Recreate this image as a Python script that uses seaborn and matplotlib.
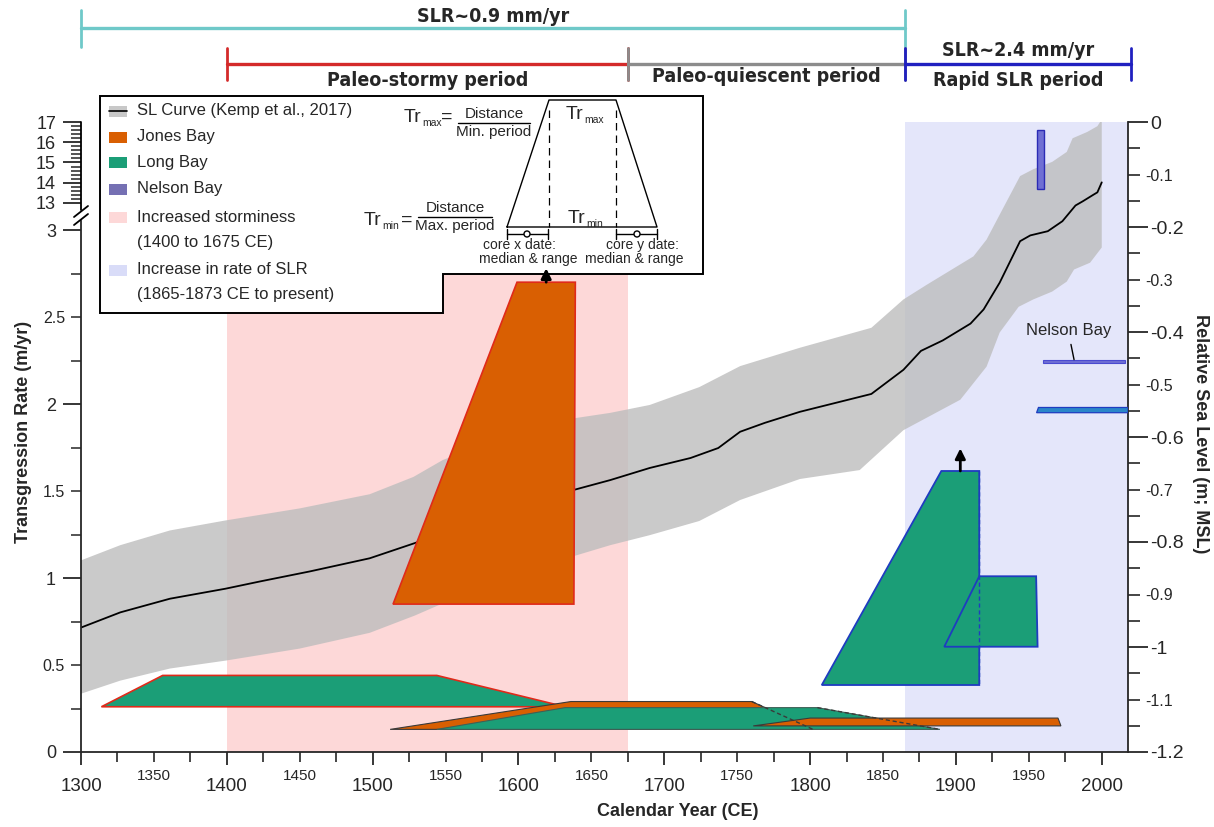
import numpy as np
import matplotlib
matplotlib.use("Agg")
import matplotlib.pyplot as plt
import matplotlib.transforms as mtransforms
import matplotlib.ticker as mticker
from matplotlib.patches import Polygon, Rectangle, Circle
from matplotlib.lines import Line2D
import seaborn as sns

# ---------------- data ----------------
# Sea-level curve (Kemp et al., 2017): mean and uncertainty envelope (m, MSL)
sl_year = [1300, 1327, 1361, 1399, 1423, 1457, 1498, 1529, 1553, 1587, 1615, 1639, 1663,
           1690, 1718, 1737, 1752, 1769, 1793, 1842, 1864, 1876, 1891, 1910, 1919, 1930,
           1944, 1951, 1963, 1973, 1982, 1987, 1994, 1997, 2000]
sl_mean = [-0.963, -0.934, -0.908, -0.889, -0.875, -0.856, -0.831, -0.802, -0.778, -0.738,
           -0.715, -0.700, -0.682, -0.659, -0.640, -0.621, -0.590, -0.573, -0.552, -0.518,
           -0.472, -0.436, -0.416, -0.384, -0.357, -0.306, -0.227, -0.216, -0.208, -0.189,
           -0.159, -0.151, -0.139, -0.134, -0.115]
up_year = [1300, 1327, 1361, 1399, 1450, 1498, 1528, 1548, 1587, 1615, 1639, 1663, 1690,
           1724, 1752, 1793, 1842, 1864, 1880, 1912, 1921, 1932, 1944, 1953, 1966, 1976,
           1980, 1990, 1997, 2000]
up_sl = [-0.835, -0.806, -0.778, -0.759, -0.736, -0.709, -0.676, -0.644, -0.602, -0.583,
         -0.564, -0.554, -0.539, -0.505, -0.465, -0.430, -0.392, -0.338, -0.310, -0.256,
         -0.224, -0.166, -0.103, -0.090, -0.076, -0.057, -0.031, -0.019, -0.008, 0.005]
lo_year = [1300, 1327, 1361, 1399, 1450, 1498, 1529, 1553, 1587, 1615, 1639, 1663, 1690,
           1724, 1752, 1793, 1834, 1864, 1903, 1921, 1930, 1943, 1953, 1966, 1976, 1981,
           1992, 2000]
lo_sl = [-1.089, -1.064, -1.041, -1.026, -1.003, -0.973, -0.940, -0.911, -0.877, -0.850,
         -0.826, -0.806, -0.787, -0.760, -0.720, -0.680, -0.663, -0.587, -0.529, -0.466,
         -0.401, -0.352, -0.338, -0.323, -0.304, -0.281, -0.268, -0.239]

# Transgression-rate trapezoids: years [bottom-left, top-left, top-right, bottom-right],
# rates [min, max] (m/yr)
jones_years = [[1514, 1599, 1639, 1638], [1512, 1636, 1760, 1802], [1761, 1800, 1970, 1972]]
jones_rates = [[0.85, 2.70], [0.13, 0.29], [0.15, 0.195]]
long_years = [[1314, 1356, 1544, 1632], [1544, 1632, 1805, 1889],
              [1808, 1890, 1916, 1916], [1892, 1916, 1955, 1956]]
long_rates = [[0.26, 0.44], [0.13, 0.255], [0.385, 1.615], [0.605, 1.01]]
nelson_years = [[1955.6, 1955.6, 1960.4, 1960.4], [1959.7, 1959.7, 2015.8, 2015.8],
                [1955.3, 1956.6, 2018, 2018]]
nelson_rates = [[13.7, 16.6], [2.233, 2.255], [1.95, 1.98]]

# Shaded periods
storm_period = [1400, 1675]
slr_period = [1865, 2018]

# Period bars above the plot
bar_labels = ["SLR~0.9 mm/yr", "Paleo-stormy period", "Paleo-quiescent period", "Rapid SLR period"]
bar_start = [1300, 1400, 1675, 1865]
bar_end = [1865, 1675, 1865, 2020]
rapid_label = "SLR~2.4 mm/yr"

legend_labels = ["SL Curve (Kemp et al., 2017)", "Jones Bay", "Long Bay", "Nelson Bay",
                 "Increased storminess\n(1400 to 1675 CE)",
                 "Increase in rate of SLR\n(1865-1873 CE to present)"]

x_major_ticks = [1300, 1400, 1500, 1600, 1700, 1800, 1900, 2000]
x_minor_ticks = [y for y in range(1325, 2000, 25) if y % 100 != 0]
rate_major_ticks = [0, 1, 2, 3, 13, 14, 15, 16, 17]
rate_minor_ticks = [0.25, 0.5, 0.75, 1.25, 1.5, 1.75, 2.25, 2.5, 2.75] + \
    [round(13 + 0.2 * i, 1) for i in range(1, 20) if i % 5 != 0]
rate_minor_labelled = [0.5, 1.5, 2.5]
sl_major_ticks = [0, -0.2, -0.4, -0.6, -0.8, -1.0, -1.2]
sl_minor_ticks = [round(-0.05 * i, 2) for i in range(1, 24) if i % 4 != 0]
sl_minor_labelled = [-0.1, -0.3, -0.5, -0.7, -0.9, -1.1]

# ---------------- style ----------------
sns.set_theme(style="white")
plt.rcParams["font.family"] = ["Liberation Sans", "DejaVu Sans"]
plt.rcParams["mathtext.default"] = "regular"
plt.rcParams["axes.linewidth"] = 1.3

JONES = "#d95f02"
LONG = "#1b9e77"
NELSON = "#6f6fd4"
NELSON_LEG = "#7570b3"
PINK = "#fdd8d8"
LBLUE = "#e4e6fa"
RED_E = "#e02a1a"
BLUE_E = "#1f3cc0"
DARK_E = "#3a3a3a"

W, H = 1214, 827
fig = plt.figure(figsize=(W / 100, H / 100), dpi=100)
pix = mtransforms.Affine2D().scale(1 / W, -1 / H).translate(0, 1) + fig.transFigure

ax_sl = fig.add_axes([81 / W, 1 - 752 / H, (1128 - 81) / W, (752 - 122) / H])
ax_sl.set_facecolor("none")
ax_rate = ax_sl.twinx()

# ---- sea level axis (right) ----
ax_sl.axvspan(storm_period[0], storm_period[1], color=PINK, lw=0, zorder=0)
ax_sl.axvspan(slr_period[0], slr_period[1], color=LBLUE, lw=0, zorder=0)
ax_sl.fill(np.concatenate([up_year, lo_year[::-1]]), np.concatenate([up_sl, lo_sl[::-1]]),
           color="#bdbdbd", alpha=0.8, lw=0, zorder=1)
sns.lineplot(x=sl_year, y=sl_mean, ax=ax_sl, color="black", linewidth=1.3, sort=False,
             estimator=None, zorder=2)
ax_sl.set_xlim(1300, 2018)
ax_sl.set_ylim(-1.2, 0)
ax_sl.set_xlabel("")
ax_sl.set_ylabel("")

# ---- transgression-rate axis (left, broken scale) ----
brk_v = [-100, 3.05, 13, 17, 100]
brk_f = [-100, 3.05, 3.1557, 3.6207, 13.2695]


def fwd(v):
    return np.interp(v, brk_v, brk_f)


def inv(f):
    return np.interp(f, brk_f, brk_v)


ax_rate.set_yscale("function", functions=(fwd, inv))


def trap(ax, yrs, rts, fc, ec, lw=1.2, z=3):
    ax.fill([yrs[0], yrs[1], yrs[2], yrs[3]], [rts[0], rts[1], rts[1], rts[0]],
            facecolor=fc, edgecolor=ec, linewidth=lw, zorder=z)


def edge(ax, yrs, rts, color, z):
    ax.plot([yrs[2], yrs[3]], [rts[1], rts[0]], color=color, lw=1.0,
            ls=(0, (3, 2)), zorder=z)


trap(ax_rate, long_years[0], long_rates[0], LONG, RED_E, 1.2, 3)
trap(ax_rate, jones_years[1], jones_rates[1], JONES, DARK_E, 0.8, 3.1)
trap(ax_rate, long_years[1], long_rates[1], LONG, "#3f5f56", 0.8, 3.2)
trap(ax_rate, jones_years[2], jones_rates[2], JONES, DARK_E, 0.8, 3.3)
edge(ax_rate, jones_years[1], jones_rates[1], DARK_E, 3.4)
edge(ax_rate, long_years[1], long_rates[1], DARK_E, 3.4)
trap(ax_rate, jones_years[0], jones_rates[0], JONES, RED_E, 1.2, 4)
trap(ax_rate, long_years[2], long_rates[2], LONG, BLUE_E, 1.3, 4.1)
trap(ax_rate, long_years[3], long_rates[3], LONG, BLUE_E, 1.3, 4.2)
edge(ax_rate, long_years[2], long_rates[2], BLUE_E, 4.3)
trap(ax_rate, nelson_years[0], nelson_rates[0], NELSON, "#2b2bb5", 1.0, 4.4)
trap(ax_rate, nelson_years[1], nelson_rates[1], NELSON, "#4a4ad0", 0.8, 4.4)
trap(ax_rate, nelson_years[2], nelson_rates[2], "#2a86c8", BLUE_E, 0.9, 4.4)

# arrows (rate exceeds maximum)
for yrs, rts, ln in [(jones_years[0], jones_rates[0], 0.08), (long_years[2], long_rates[2], 0.13)]:
    xm = (yrs[1] + yrs[2]) / 2
    ax_rate.annotate("", xy=(xm, rts[1] + ln), xytext=(xm, rts[1]),
                     arrowprops=dict(arrowstyle="-|>", color="black", lw=2.0,
                                     mutation_scale=15, shrinkA=0, shrinkB=0),
                     zorder=12, annotation_clip=False)

ax_rate.annotate("Nelson Bay", xy=(1981, nelson_rates[1][1]), xytext=(1977, 2.42),
                 ha="center", va="center", fontsize=12, zorder=6,
                 arrowprops=dict(arrowstyle="-", color="black", lw=1.0, shrinkA=2, shrinkB=0))

ax_rate.set_ylim(0, 17)
ax_sl.set_xlim(1300, 2018)

# ---- ticks ----
ax_sl.xaxis.set_major_locator(mticker.FixedLocator(x_major_ticks))
ax_sl.xaxis.set_minor_locator(mticker.FixedLocator(x_minor_ticks))
ax_sl.xaxis.set_major_formatter(mticker.FuncFormatter(lambda v, p: f"{int(round(v))}"))
ax_sl.xaxis.set_minor_formatter(mticker.FuncFormatter(
    lambda v, p: f"{int(round(v))}" if int(round(v)) % 50 == 0 else ""))
ax_sl.tick_params(axis="x", which="major", direction="out", bottom=True, length=9.5,
                  width=1.3, labelsize=13.5, pad=9)
ax_sl.tick_params(axis="x", which="minor", direction="out", bottom=True, length=7.2,
                  width=1.2, labelsize=11, pad=5)

ax_sl.yaxis.tick_right()
ax_sl.yaxis.set_major_locator(mticker.FixedLocator(sl_major_ticks))
ax_sl.yaxis.set_minor_locator(mticker.FixedLocator(sl_minor_ticks))
ax_sl.yaxis.set_major_formatter(mticker.FuncFormatter(lambda v, p: f"{v:g}"))
ax_sl.yaxis.set_minor_formatter(mticker.FuncFormatter(
    lambda v, p: f"{v:g}" if any(abs(v - t) < 1e-6 for t in sl_minor_labelled) else ""))
ax_sl.tick_params(axis="y", which="major", direction="out", right=True, left=False,
                  labelright=True, labelleft=False, length=14.4, width=1.3,
                  labelsize=14, pad=1.5)
ax_sl.tick_params(axis="y", which="minor", direction="out", right=True, left=False,
                  labelright=True, labelleft=False, length=8.6, width=1.2,
                  labelsize=11.5, pad=3.5)

ax_rate.yaxis.tick_left()
ax_rate.yaxis.set_major_locator(mticker.FixedLocator(rate_major_ticks))
ax_rate.yaxis.set_minor_locator(mticker.FixedLocator(rate_minor_ticks))
ax_rate.yaxis.set_major_formatter(mticker.FuncFormatter(lambda v, p: f"{v:g}"))
ax_rate.yaxis.set_minor_formatter(mticker.FuncFormatter(
    lambda v, p: f"{v:g}" if any(abs(v - t) < 1e-6 for t in rate_minor_labelled) else ""))
ax_rate.tick_params(axis="y", which="major", direction="out", left=True, right=False,
                    labelleft=True, labelright=False, length=13, width=1.3,
                    labelsize=13, pad=5)
ax_rate.tick_params(axis="y", which="minor", direction="out", left=True, right=False,
                    labelleft=True, labelright=False, length=7.5, width=1.1,
                    labelsize=11.5, pad=4)

for s in ["top", "left"]:
    ax_sl.spines[s].set_visible(False)
for s in ["top", "right", "bottom"]:
    ax_rate.spines[s].set_visible(False)
ax_sl.spines["right"].set_linewidth(1.3)
ax_sl.spines["bottom"].set_linewidth(1.3)
ax_rate.spines["left"].set_linewidth(1.3)
ax_rate.spines["left"].set_bounds(0, 3.06)
bl_rate = mtransforms.blended_transform_factory(ax_rate.transAxes, ax_rate.transData)
ax_rate.plot([0, 0], [9.2, 17], transform=bl_rate, color="black", lw=1.3,
             clip_on=False, zorder=5)
for ys in ([225, 214], [217, 206]):
    fig.add_artist(Line2D([74, 88], ys, transform=pix, color="black", lw=1.3))

# axis titles
fig.text(24, 432, "Transgression Rate (m/yr)", transform=pix, rotation=90, ha="center",
         va="center", fontsize=13, fontweight="bold")
fig.text(1201, 434, "Relative Sea Level (m; MSL)", transform=pix, rotation=270,
         ha="center", va="center", fontsize=13, fontweight="bold")
fig.text(678, 812, "Calendar Year (CE)", transform=pix, ha="center", va="center",
         fontsize=13, fontweight="bold")

# ---- period bars on top ----
bt = mtransforms.blended_transform_factory(ax_sl.transData, pix)
bar_colors = ["#6fc9c9", "#d42a2a", "#8c8c8c", "#2020c0"]
bar_y = [28, 64, 64, 64]
cap_y = [(10, 47), (48, 80), (48, 80), (48, 80)]
text_y = [17, 80, 77, 81]
TOPFONT = dict(fontsize=14, fontweight="bold", family=["DejaVu Sans"], fontstretch="condensed")
for lab, x0, x1, c, y, cy, ty in zip(bar_labels, bar_start, bar_end, bar_colors,
                                     bar_y, cap_y, text_y):
    fig.add_artist(Line2D([x0, x1], [y, y], transform=bt, color=c, lw=2.4))
    for xc in (x0, x1):
        fig.add_artist(Line2D([xc, xc], list(cy), transform=bt, color=c, lw=2.0))
    fig.text((x0 + x1) / 2, ty, lab, transform=bt, ha="center", va="center", **TOPFONT)
fig.text((bar_start[3] + bar_end[3]) / 2, 50, rapid_label, transform=bt, ha="center",
         va="center", **TOPFONT)

# ---- legend box (notched) ----
box = Polygon([(100, 96), (703, 96), (703, 274), (443, 274), (443, 313), (100, 313)],
              closed=True, transform=pix, facecolor="white", edgecolor="black",
              lw=1.4, zorder=10, clip_on=False)
ax_rate.add_artist(box)

leg_colors = ["#c8c8c8", JONES, LONG, NELSON_LEG, PINK, "#d9dcf8"]
row_y = [111, 137, 162, 189, 217, 270]
for lab, c, yc in zip(legend_labels, leg_colors, row_y):
    fig.add_artist(Rectangle((109, yc - 5.5), 18, 11, transform=pix, facecolor=c,
                             edgecolor="none"))
    for i, line in enumerate(lab.split("\n")):
        fig.text(137, yc + i * 25, line, transform=pix, ha="left", va="center", fontsize=12)
fig.add_artist(Line2D([109, 127], [111, 111], transform=pix, color="black", lw=1.2))

# ---- schematic inset ----
fig.add_artist(Line2D([507, 549, 616, 657, 507], [227, 100, 100, 227, 227], transform=pix,
                      color="black", lw=1.0))
for xd in (549, 616):
    fig.add_artist(Line2D([xd, xd], [110, 227], transform=pix, color="black", lw=0.9,
                          ls=(0, (6, 4))))


def tr_label(x, y, sub, suffix=""):
    # "Tr" with a small lowered subscript; x is the left edge of "Tr"
    fig.text(x, y, "Tr", transform=pix, ha="left", va="baseline", fontsize=14)
    fig.text(x + 18, y + 4, sub, transform=pix, ha="left", va="baseline", fontsize=7.5)
    if suffix:
        fig.text(x + 18 + 6.2 * len(sub), y, suffix, transform=pix, ha="left",
                 va="baseline", fontsize=14)


tr_label(566, 119, "max")
tr_label(568, 223, "min")
tr_label(404, 122, "max", "=")
tr_label(364, 225, "min", "=")
fig.text(494, 121, "Distance", transform=pix, ha="center", va="bottom", fontsize=11)
fig.add_artist(Line2D([458, 530], [123, 123], transform=pix, color="black", lw=1.0))
fig.text(494, 125, "Min. period", transform=pix, ha="center", va="top", fontsize=11)
fig.text(455, 215, "Distance", transform=pix, ha="center", va="bottom", fontsize=11)
fig.add_artist(Line2D([418, 492], [217, 217], transform=pix, color="black", lw=1.0))
fig.text(455, 219, "Max. period", transform=pix, ha="center", va="top", fontsize=11)
for xa, xb, xm in ((507, 548, 527), (616, 657, 637)):
    fig.add_artist(Line2D([xa, xb], [234, 234], transform=pix, color="black", lw=1.0))
    for xc in (xa, xb):
        fig.add_artist(Line2D([xc, xc], [229, 239], transform=pix, color="black", lw=1.0))
    fig.add_artist(Circle((xm, 234), 3, transform=pix, facecolor="white",
                          edgecolor="black", lw=1.0, zorder=3))
fig.text(519, 245, "core x date:", transform=pix, ha="center", va="center", fontsize=10)
fig.text(528, 259, "median & range", transform=pix, ha="center", va="center", fontsize=10)
fig.text(642, 245, "core y date:", transform=pix, ha="center", va="center", fontsize=10)
fig.text(634, 259, "median & range", transform=pix, ha="center", va="center", fontsize=10)

fig.savefig("out.png", dpi=100)
